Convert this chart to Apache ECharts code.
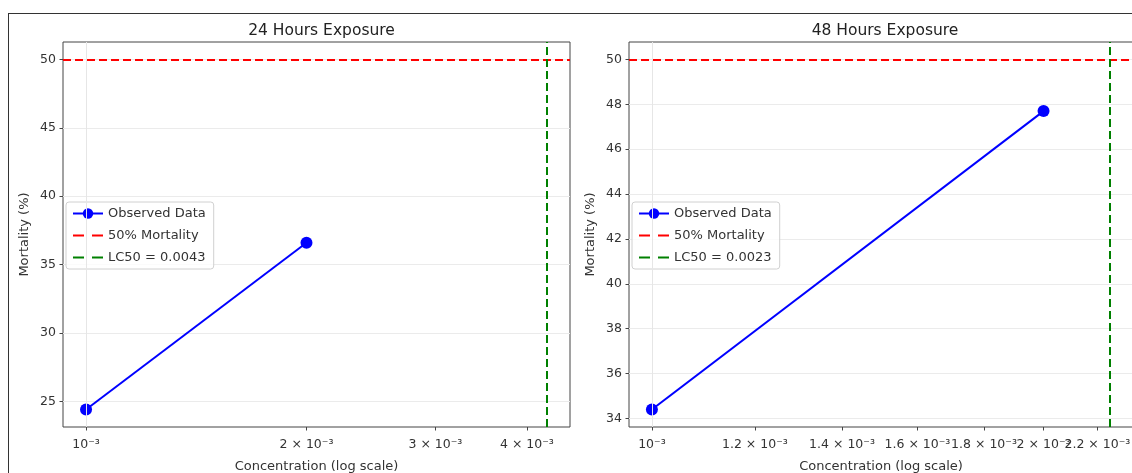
<!DOCTYPE html>
<html lang="en">
<head>
<meta charset="UTF-8">
<title>LC50 Exposure</title>
<style>
  body{margin:0;background:#fff;}
  #frame{position:absolute;left:8px;top:13px;width:1140px;height:480px;border:1px solid #333;}
  #main{position:absolute;left:0;top:0;width:1132px;height:473px;}
</style>
</head>
<body>
<div id="frame"></div>
<div id="main"></div>
<script src="https://cdn.jsdelivr.net/npm/echarts@6/dist/echarts.min.js"></script>
<script>
  // observed points (concentration, % mortality)
  const conc = [0.001, 0.002]
  const mort24 = [24.4, 36.6]
  const mort48 = [34.4, 47.7]
  const lc50 = [0.00426, 0.00225]
  const lc50Names = ['LC50 = 0.0043', 'LC50 = 0.0023']
  const titles = ['24 Hours Exposure', '48 Hours Exposure']
  const target = 50
  const xTicks24 = [0.001, 0.002, 0.003, 0.004]
  const xTicks48 = [0.001, 0.0012, 0.0014, 0.0016, 0.0018, 0.002, 0.0022]
  const yTicks24 = [25, 30, 35, 40, 45, 50]
  const yTicks48 = [34, 36, 38, 40, 42, 44, 46, 48, 50]

  const font = 'DejaVu Sans'
  const grids = [
    {left: 63, top: 42, width: 507, height: 385},
    {left: 629, top: 42, width: 504, height: 385}
  ]

  // matplotlib style 5% margins
  function linLim(vals) {
    let lo = Math.min(...vals), hi = Math.max(...vals), d = (hi - lo) * 0.05
    return [lo - d, hi + d]
  }
  function logLim(vals) {
    let lo = Math.log10(Math.min(...vals)), hi = Math.log10(Math.max(...vals)), d = (hi - lo) * 0.05
    return [Math.pow(10, lo - d), Math.pow(10, hi + d)]
  }
  function sciLabel(v) {
    let m = Math.round(v * 10000) / 10
    if (m === 1) return '10⁻³'
    return m + ' × 10⁻³'
  }

  const panels = [
    {y: mort24, xt: xTicks24, yt: yTicks24},
    {y: mort48, xt: xTicks48, yt: yTicks48}
  ]

  let xAxis = [], yAxis = [], series = [], legend = [], title = []
  panels.forEach((p, i) => {
    let xl = logLim(conc.concat([lc50[i]]))
    let yl = linLim(p.y.concat([target]))
    title.push({
      text: titles[i],
      left: grids[i].left + grids[i].width / 2 - (i === 1 ? 1 : 0),
      top: 18,
      textAlign: 'center',
      textStyle: {fontFamily: font, fontSize: 15.5, fontWeight: 'normal', color: '#222'}
    })
    // x ticks split over two stacked log axes (even / odd), so echarts
    // does not drop the crowded end labels - matplotlib draws them all
    let tickSets = [p.xt.filter((v, k) => k % 2 === 0), p.xt.filter((v, k) => k % 2 === 1)]
    tickSets.forEach((ts, j) => {
      xAxis.push({
        type: 'log', gridIndex: i, min: xl[0], max: xl[1], position: 'bottom',
        name: j === 0 ? 'Concentration (log scale)' : '', nameLocation: 'middle', nameGap: 33,
        nameTextStyle: {fontFamily: font, fontSize: 13, color: '#333'},
        axisLine: {show: false},
        axisTick: {show: true, inside: false, length: 3.5, customValues: ts, lineStyle: {color: '#444'}},
        axisLabel: {customValues: ts, formatter: sciLabel, fontFamily: font, fontSize: 12.5, color: '#333',
          margin: 11, hideOverlap: false, showMaxLabel: true, showMinLabel: true},
        splitLine: {show: false}, minorTick: {show: false}
      })
    })
    yAxis.push({
      type: 'value', gridIndex: i, min: yl[0], max: yl[1],
      name: 'Mortality (%)', nameLocation: 'middle', nameGap: 32,
      nameTextStyle: {fontFamily: font, fontSize: 13, color: '#333'},
      axisLine: {show: false},
      axisTick: {show: true, inside: false, length: 3.5, customValues: p.yt, lineStyle: {color: '#444'}},
      axisLabel: {customValues: p.yt, fontFamily: font, fontSize: 12.5, color: '#333', margin: 7},
      splitLine: {show: true, lineStyle: {color: '#ebebeb', width: 1}}
    })
    let xi = i * 2
    // grid line at the major decade tick
    series.push({
      name: 'major' + i, type: 'line', xAxisIndex: xi, yAxisIndex: i, data: [], z: 1,
      markLine: {silent: true, symbol: 'none', label: {show: false}, animation: false,
        lineStyle: {color: '#e6e6e6', type: 'solid', width: 1},
        data: [[{coord: [conc[0], yl[0]]}, {coord: [conc[0], yl[1]]}]]}
    })
    series.push({
      name: 'Observed Data', type: 'line', xAxisIndex: xi, yAxisIndex: i, z: 3,
      data: conc.map((c, k) => [c, p.y[k]]),
      symbol: 'circle', symbolSize: 12, showSymbol: true,
      lineStyle: {color: '#0000ff', width: 2}, itemStyle: {color: '#0000ff'}
    })
    series.push({
      name: '50% Mortality', type: 'line', xAxisIndex: xi, yAxisIndex: i, data: [], z: 4,
      symbol: 'none', lineStyle: {color: '#ff0000', type: [8, 4], width: 2}, itemStyle: {color: '#ff0000'},
      markLine: {silent: true, symbol: 'none', label: {show: false}, animation: false,
        lineStyle: {color: '#ff0000', type: [8, 4], width: 2}, data: [{yAxis: target}]}
    })
    series.push({
      name: lc50Names[i], type: 'line', xAxisIndex: xi, yAxisIndex: i, data: [], z: 4,
      symbol: 'none', lineStyle: {color: '#008000', type: [8, 4], width: 2}, itemStyle: {color: '#008000'},
      markLine: {silent: true, symbol: 'none', label: {show: false}, animation: false,
        lineStyle: {color: '#008000', type: [8, 4], width: 2},
        data: [[{coord: [lc50[i], yl[0]]}, {coord: [lc50[i], yl[1]]}]]}
    })
    legend.push({
      data: [
        {name: 'Observed Data'},
        {name: '50% Mortality', itemStyle: {opacity: 0}, lineStyle: {type: [11, 8]}},
        {name: lc50Names[i], itemStyle: {opacity: 0}, lineStyle: {type: [11, 8]}}
      ],
      orient: 'vertical', left: grids[i].left + 3, top: 202,
      itemWidth: 30, itemHeight: 13, itemGap: 9,
      padding: [5, 8, 5, 6],
      borderColor: '#d0d0d0', borderWidth: 1, borderRadius: 3, backgroundColor: 'rgba(255,255,255,0.8)',
      textStyle: {fontFamily: font, fontSize: 13, color: '#333'}
    })
  })

  var myChart = echarts.init(document.getElementById('main'))
  var option = {
    animation: false,
    title: title,
    grid: grids.map(g => Object.assign({show: true, borderColor: '#444', borderWidth: 1,
      backgroundColor: 'transparent', outerBoundsMode: 'none', containLabel: false}, g)),
    legend: legend,
    xAxis: xAxis,
    yAxis: yAxis,
    series: series
  }
  option && myChart.setOption(option)
</script>
</body>
</html>
